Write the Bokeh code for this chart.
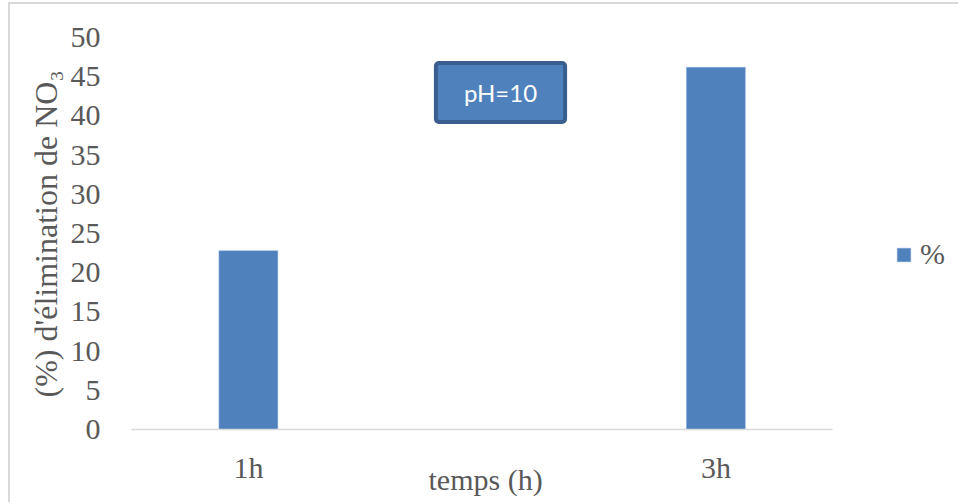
from bokeh.plotting import figure
from bokeh.models import Range1d, FixedTicker, Label, Legend, LegendItem, ColumnDataSource, Title
from bokeh.embed import file_html
from bokeh.resources import INLINE

categories = ["1h", "3h"]
values = [22.8, 46.2]
y_ticks = [0, 5, 10, 15, 20, 25, 30, 35, 40, 45, 50]
series_name = "%"
x_title = "temps (h)"
y_title = "(%) d'élimination de NO₃"
positions = [i + 1 for i in range(len(categories))]

BAR = "#4F81BD"
TXT = "#595959"
SERIF = "Liberation Serif"

# layout: category axis spans [0.75, n+0.25]; frame extends further right to host the legend
x_start = 0.75
x_axis_end = len(categories) + 0.25
px_per_unit = 467.5
x_end = x_start + (960 - 131) / px_per_unit

src = ColumnDataSource(data=dict(x=positions, top=values, cat=categories))

p = figure(width=950, height=500, output_backend="svg", toolbar_location=None,
           x_range=Range1d(x_start, x_end), y_range=Range1d(0, 50),
           min_border_left=121, min_border_right=0, min_border_top=33, min_border_bottom=75)
p.styles = {"border-left": "2px solid #d9d9d9", "border-top": "2px solid #d9d9d9",
            "margin-left": "8px", "margin-top": "2px"}
p.outline_line_color = None
p.xgrid.grid_line_color = None
p.ygrid.grid_line_color = None

r = p.vbar(x="x", top="top", width=0.126, source=src, fill_color=BAR, line_color="#8FAADC", line_width=0.5)

p.xaxis.bounds = (x_start, x_axis_end)
p.xaxis.ticker = FixedTicker(ticks=positions)
p.xaxis.major_label_overrides = {pos: c for pos, c in zip(positions, categories)}
p.xaxis.axis_line_color = "#d9d9d9"
p.xaxis.axis_line_width = 1.5
p.xaxis.major_tick_line_color = None
p.xaxis.minor_tick_line_color = None
p.xaxis.major_label_text_font = SERIF
p.xaxis.major_label_text_font_size = "30px"
p.xaxis.major_label_text_color = TXT
p.xaxis.major_label_standoff = 15

p.yaxis.ticker = FixedTicker(ticks=y_ticks)
p.yaxis.axis_line_color = None
p.yaxis.major_tick_line_color = None
p.yaxis.minor_tick_line_color = None
p.yaxis.major_label_text_font = SERIF
p.yaxis.major_label_text_font_size = "30px"
p.yaxis.major_label_text_color = TXT
p.yaxis.major_label_standoff = 25

xt = Title(text=x_title, align="left", vertical_align="top", offset=297, standoff=-48,
           text_font=SERIF, text_font_size="30px", text_font_style="normal", text_color=TXT)
p.add_layout(xt, "below")

yt = Title(text=y_title, align="left", offset=32, standoff=8,
           text_font=SERIF, text_font_size="32px", text_font_style="normal", text_color=TXT)
p.add_layout(yt, "left")

legend = Legend(items=[LegendItem(label=series_name, renderers=[r])],
                location=(764, 158), padding=0, margin=0, spacing=0,
                border_line_color=None, background_fill_alpha=0,
                glyph_width=17, glyph_height=17, label_standoff=8,
                label_text_font=SERIF, label_text_font_size="30px", label_text_color=TXT)
p.add_layout(legend, "center")

box = Label(x=369, y=337, x_units="screen", y_units="screen", text="pH=10",
            text_align="center", text_baseline="middle",
            text_font="Lato", text_font_size="24px", text_color="white",
            background_fill_color=BAR, border_line_color="#3A5F8E", border_line_width=4,
            padding=dict(left=28, right=28, top=15, bottom=15), border_radius=3)
p.add_layout(box)

open("out.html", "w").write(file_html(p, INLINE))
